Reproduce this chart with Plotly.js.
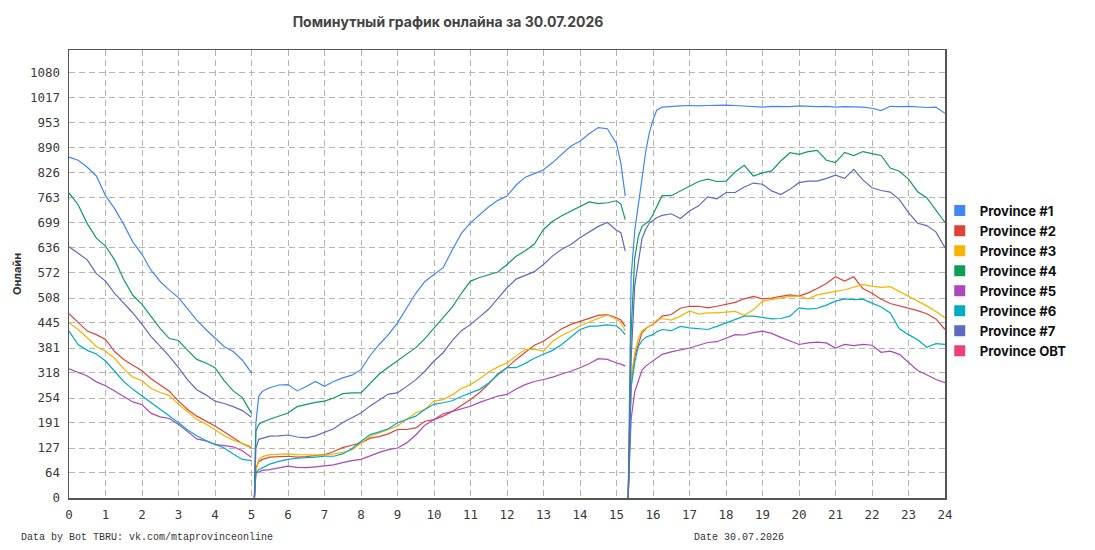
<!DOCTYPE html>
<html>
<head>
<meta charset="utf-8">
<script src="https://cdn.plot.ly/plotly-3.0.1.min.js"></script>
<style>
html,body{margin:0;padding:0;background:#fff;}
#chart{width:1095px;height:550px;}
</style>
</head>
<body>
<div id="chart"></div>
<script>
// Hours of the day (x values)
const hours = [
  0,0.25,0.5,0.75,1,1.25,1.5,1.75,2,2.25,2.5,2.75,3,3.25,3.5,3.75,4,4.25,4.5,4.75,5,
  5.04,5.08,
  5.12,5.2,5.3,5.5,5.75,
  6,6.25,6.5,6.75,7,7.25,7.5,7.75,8,8.25,8.5,8.75,9,9.25,9.5,9.75,10,10.25,10.5,10.75,11,11.25,11.5,11.75,12,12.25,12.5,12.75,13,13.25,13.5,13.75,14,14.25,14.5,14.75,15,
  15.12,15.24,
  15.28,15.32,
  15.4,15.5,15.6,15.7,15.8,15.9,16,16.1,
  16.25,16.5,16.75,17,17.25,17.5,17.75,18,18.25,18.5,18.75,19,19.25,19.5,19.75,20,20.25,20.5,20.75,21,21.25,21.5,21.75,22,22.25,22.5,22.75,23,23.25,23.5,23.75,24
];

const province1 = [
  866,858,840,818,768,735,695,650,619,578,550,528,509,480,452,428,407,385,372,350,318,
  null,0,
  190,259,271,280,287,
  288,272,283,296,284,296,305,312,326,362,390,415,445,482,520,550,568,585,630,672,699,720,740,756,767,795,815,824,834,852,874,894,906,925,941,938,900,
  850,767,
  null,0,
  560,680,740,812,880,928,960,985,
  993,995,996,997,996,997,998,998,997,996,995,993,995,995,994,996,995,994,995,993,994,994,993,990,984,995,994,995,993,992,993,977
];
const province2 = [
  468,445,424,415,403,372,352,337,323,303,288,271,246,225,208,196,183,168,152,138,128,
  null,0,
  77,92,98,104,105,
  106,104,105,108,110,118,128,134,140,152,156,163,174,174,178,195,199,208,220,235,250,268,290,316,331,352,370,388,398,415,430,441,449,456,464,466,458,
  452,436,
  null,0,
  290,360,392,420,430,437,441,448,
  462,466,482,487,487,483,487,492,497,506,512,506,508,512,516,513,521,532,545,562,551,562,532,520,505,494,488,483,476,468,455,428
];
const province3 = [
  445,428,407,385,373,355,328,307,298,278,268,260,238,218,200,188,174,158,147,138,130,
  null,0,
  68,98,105,110,111,
  112,110,110,109,109,112,116,122,140,157,165,174,183,200,216,225,246,250,262,278,288,303,320,333,343,361,377,378,373,398,413,424,437,447,456,465,454,
  445,424,
  null,0,
  300,370,405,425,432,437,441,452,
  456,452,462,475,467,470,470,472,474,464,478,500,504,508,512,513,506,516,521,525,529,536,542,538,535,537,525,513,500,488,474,458
];
const province4 = [
  775,745,697,660,640,605,555,515,492,460,430,405,400,375,352,343,331,298,272,255,215,
  null,0,
  170,187,193,200,207,
  216,232,238,243,246,254,265,267,267,290,315,332,348,365,382,405,432,458,485,520,551,560,567,574,593,614,628,645,682,703,717,729,741,752,748,750,755,
  746,707,
  null,0,
  420,610,665,690,697,704,720,740,
  768,768,780,793,804,810,804,805,828,845,818,826,831,856,877,873,880,883,858,852,878,870,880,875,870,838,830,810,778,763,732,700
];
const province5 = [
  328,318,310,295,285,272,258,244,237,215,206,202,187,168,150,145,136,133,130,120,103,
  null,0,
  64,66,70,72,76,
  81,78,77,79,81,84,90,95,98,108,116,123,127,140,160,185,200,214,220,226,233,243,252,259,263,277,288,296,301,307,315,322,331,341,354,352,343,
  340,335,
  null,0,
  200,270,300,325,335,342,348,355,
  365,371,376,381,388,395,397,405,415,414,420,424,418,408,398,390,394,396,394,381,390,387,390,388,370,373,365,345,324,313,301,293
];
const province6 = [
  424,390,375,366,348,322,296,276,259,243,226,210,191,173,158,146,136,127,112,98,95,
  null,0,
  64,72,77,86,93,
  98,101,102,104,106,106,112,125,144,161,168,176,191,199,208,225,238,242,247,258,267,276,292,313,331,331,342,355,365,375,390,408,428,436,437,440,437,
  428,415,
  null,0,
  280,345,385,400,408,412,415,422,
  428,425,436,432,430,428,436,445,455,462,462,458,455,456,462,483,480,482,490,500,506,504,505,495,485,470,430,415,402,383,392,390
];
const province7 = [
  638,622,605,570,551,520,495,470,441,410,385,360,331,300,275,262,246,240,232,222,205,
  null,0,
  127,149,152,157,158,
  160,155,153,158,166,176,192,205,216,234,250,264,267,283,300,322,348,369,400,425,441,460,480,507,534,556,565,575,593,615,632,644,661,675,690,700,680,
  674,627,
  null,0,
  350,540,600,660,682,699,705,712,
  718,722,710,729,742,765,760,776,776,790,800,797,780,771,784,801,805,805,812,820,812,835,808,788,781,777,758,725,698,692,676,636
];
const provinceOBT = [];

const seriesNames = ["Province #1","Province #2","Province #3","Province #4","Province #5","Province #6","Province #7","Province OBT"];
const seriesColors = ["#4285f4","#db4437","#f4b400","#0f9d58","#ab47bc","#00acc1","#5c6bc0","#ec407a"];
const seriesValues = [province1,province2,province3,province4,province5,province6,province7,provinceOBT];

const yTickValues = [0,64,127,191,254,318,381,445,508,572,636,699,763,826,890,953,1017,1080];
const yTickLabels = ["0","64","127","191","254","318","381","445","508","572","636","699","763","826","890","953","1017","1080"];
const xTickValues = [0,1,2,3,4,5,6,7,8,9,10,11,12,13,14,15,16,17,18,19,20,21,22,23,24];

const titleText = "Поминутный график онлайна за 30.07.2026";
const yTitleText = "Онлайн";
const footerLeft = "Data by Bot TBRU: vk.com/mtaprovinceonline";
const footerRight = "Date 30.07.2026";

const traces = [];
seriesValues.forEach((vals, i) => {
  traces.push({
    type: "scatter", mode: "lines",
    x: hours.slice(0, vals.length), y: vals,
    name: seriesNames[i], showlegend: false,
    line: {color: seriesColors[i], width: 1.2},
    connectgaps: false, hoverinfo: "skip"
  });
});
// legend entries (square swatches)
seriesNames.forEach((n, i) => {
  traces.push({
    type: "scatter", mode: "markers",
    x: [null], y: [null], name: n, showlegend: true,
    marker: {color: seriesColors[i], symbol: "square", size: 11}
  });
});

const tickFont = {family: "DejaVu Sans Mono, Liberation Mono, monospace", size: 12.5, color: "#3a3a3a"};

const layout = {
  width: 1095, height: 550,
  margin: {l: 69, r: 150, t: 50, b: 52},
  paper_bgcolor: "#ffffff", plot_bgcolor: "#ffffff",
  showlegend: true,
  title: {
    text: titleText,
    x: 448/1095, xanchor: "center", xref: "container",
    y: 1 - 22/550, yanchor: "middle", yref: "container",
    font: {family: "Inter, Roboto, sans-serif", size: 14, weight: "bold", color: "#444"}
  },
  xaxis: {
    range: [0, 24], tickvals: xTickValues, ticktext: xTickValues.map(String),
    showgrid: true, gridcolor: "#b4b4b4", griddash: "6px,4px", gridwidth: 1,
    zeroline: false, showline: true, linecolor: "#555", linewidth: 1.5, mirror: true,
    ticks: "", ticklabelstandoff: 4, tickfont: tickFont, fixedrange: true
  },
  yaxis: {
    range: [0, 1138], tickvals: yTickValues, ticktext: yTickLabels,
    showgrid: true, gridcolor: "#b4b4b4", griddash: "6px,4px", gridwidth: 1,
    zeroline: false, showline: true, linecolor: "#555", linewidth: 1.5, mirror: true,
    ticks: "", ticklabelstandoff: 5, tickfont: tickFont, fixedrange: true,
    title: {text: yTitleText, standoff: 6, font: {family: "Inter, Roboto, sans-serif", size: 11, weight: "bold", color: "#333"}}
  },
  legend: {
    x: 0.994, xanchor: "left", y: 0.675, yanchor: "top",
    bgcolor: "rgba(0,0,0,0)", borderwidth: 0,
    font: {family: "Inter, Roboto, sans-serif", size: 13.1, weight: "bold", color: "#111"},
    itemwidth: 30, tracegroupgap: 0
  },
  annotations: [
    {text: footerLeft, xref: "paper", yref: "paper", x: (19-69)/876, y: (498-537)/448,
     xanchor: "left", yanchor: "middle", showarrow: false,
     font: {family: "Liberation Mono, DejaVu Sans Mono, monospace", size: 10, color: "#333"}},
    {text: footerRight, xref: "paper", yref: "paper", x: (692-69)/876, y: (498-537)/448,
     xanchor: "left", yanchor: "middle", showarrow: false,
     font: {family: "Liberation Mono, DejaVu Sans Mono, monospace", size: 10, color: "#333"}}
  ]
};

Plotly.newPlot("chart", traces, layout, {staticPlot: true, displayModeBar: false});
</script>
</body>
</html>
